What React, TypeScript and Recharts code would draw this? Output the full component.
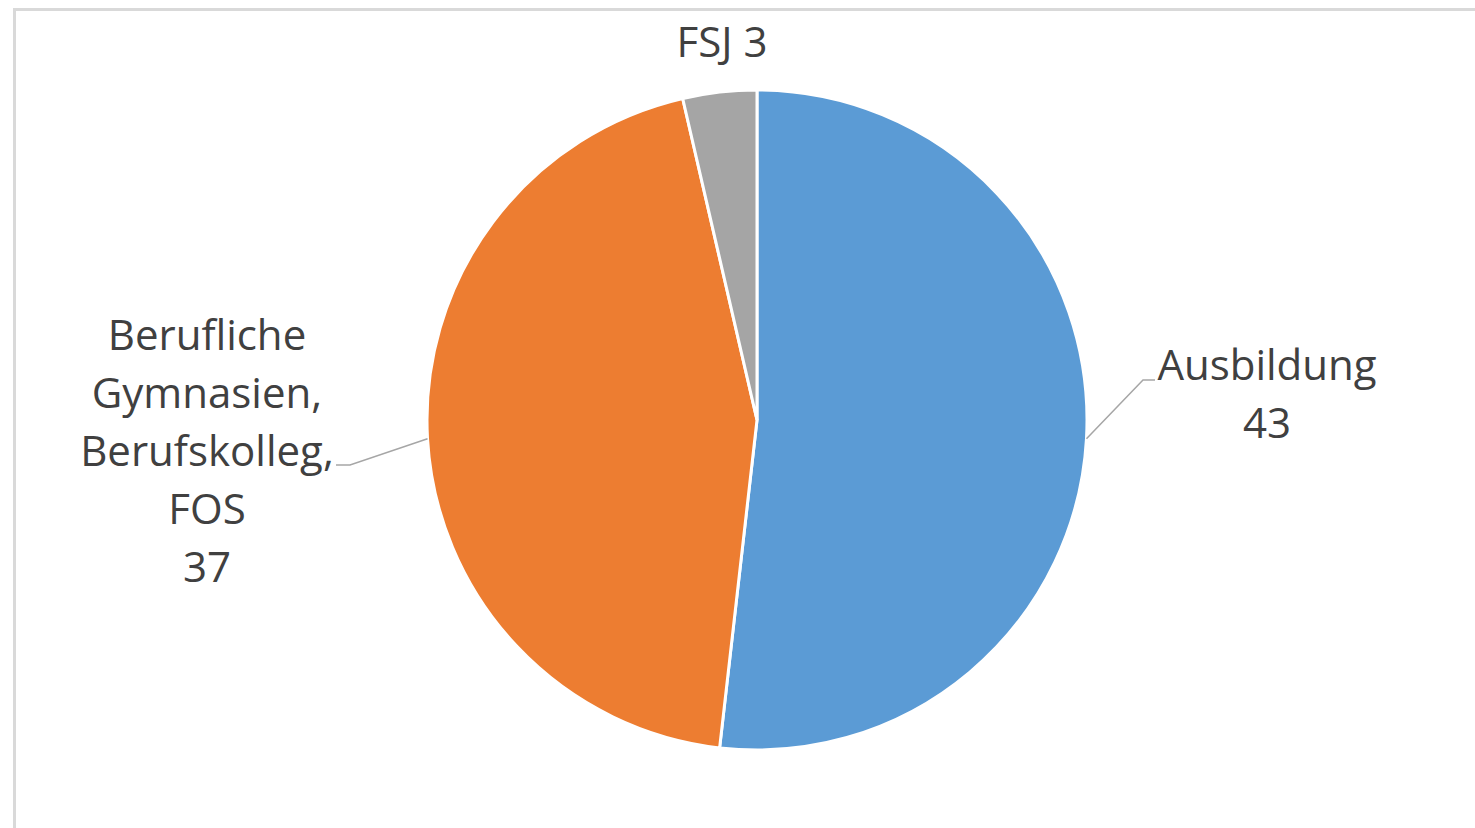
import React from 'react';
import { PieChart, Pie, Cell } from 'recharts';

const categories = ['Ausbildung', 'Berufliche Gymnasien, Berufskolleg, FOS', 'FSJ'];
const values = [43, 37, 3];
const colors = ['#5B9BD5', '#ED7D31', '#A5A5A5'];

const data = categories.map((name, i) => ({ name, value: values[i] }));

const RADIAN = Math.PI / 180;
const TEXT = '#404040';
const LEADER = '#A6A6A6';
const LINE_H = 58;

// label placement relative to pie centre
const labelLayout: Record<string, any> = {
  'Ausbildung': { lines: ['Ausbildung'], elbow: [386, -40], end: [398, -40], tx: 510, ty: -40, inline: false },
  'Berufliche Gymnasien, Berufskolleg, FOS': {
    lines: ['Berufliche', 'Gymnasien,', 'Berufskolleg,', 'FOS'],
    elbow: [-407, 45], end: [-421, 45], tx: -550, ty: -70, inline: false,
  },
  'FSJ': { lines: [], elbow: null, end: null, tx: -35, ty: -363, inline: true },
};

const renderLabel = (props: any) => {
  const { cx, cy, midAngle, outerRadius, name, value } = props;
  const lay = labelLayout[name];
  if (!lay) return null;
  const px = cx + outerRadius * Math.cos(-midAngle * RADIAN);
  const py = cy + outerRadius * Math.sin(-midAngle * RADIAN);
  const rows = lay.inline ? [`${name} ${value}`] : [...lay.lines, String(value)];
  return (
    <g>
      {lay.elbow && (
        <polyline
          points={`${px},${py} ${cx + lay.elbow[0]},${cy + lay.elbow[1]} ${cx + lay.end[0]},${cy + lay.end[1]}`}
          fill="none"
          stroke={LEADER}
          strokeWidth={1.5}
        />
      )}
      <text x={cx + lay.tx} y={cy + lay.ty} textAnchor="middle" fill={TEXT} fontSize={42} fontFamily="'Open Sans', sans-serif">
        {rows.map((r, i) => (
          <tspan key={i} x={cx + lay.tx} y={cy + lay.ty + i * LINE_H}>{r}</tspan>
        ))}
      </text>
    </g>
  );
};

export default function App() {
  return (
    <div style={{ position: 'fixed', left: 0, top: 0, width: 1475, height: 828, overflow: 'hidden', background: '#fff' }}>
      <div style={{ position: 'absolute', left: 13, top: 8, width: 1500, height: 900, border: '3px solid #D9D9D9', boxSizing: 'border-box' }} />
      <div style={{ position: 'absolute', left: 0, top: 0 }}>
        <PieChart width={1475} height={828} margin={{ top: 0, right: 0, bottom: 0, left: 0 }}>
          <Pie
            data={data}
            dataKey="value"
            nameKey="name"
            cx={757}
            cy={420}
            outerRadius={330}
            startAngle={90}
            endAngle={-270}
            stroke="#fff"
            strokeWidth={3}
            label={renderLabel}
            labelLine={false}
            isAnimationActive={false}
          >
            {data.map((entry, i) => (
              <Cell key={entry.name} fill={colors[i]} />
            ))}
          </Pie>
        </PieChart>
      </div>
    </div>
  );
}
